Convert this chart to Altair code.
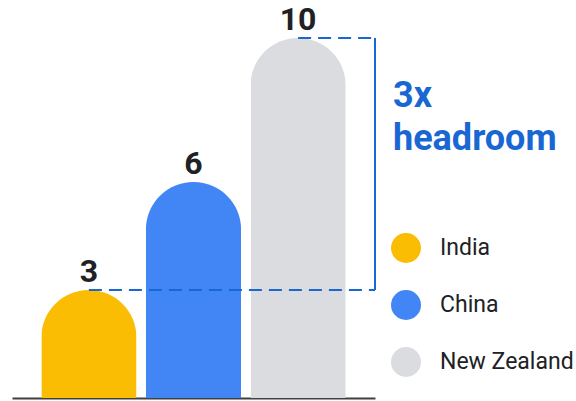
import altair as alt
import pandas as pd

countries = ["India", "China", "New Zealand"]
values = [3, 6, 10]
colors = ["#FBBC04", "#4285F4", "#DADCE0"]
headroom_from = ["India", "New Zealand"]
headroom_values = [3, 10]
headroom_lines = ["3x", "headroom"]

FONT = "Roboto"
BLUE = "#1967D2"
INK = "#202124"

bars_df = pd.DataFrame({"country": countries, "value": values})
guide_df = pd.DataFrame({"country": headroom_from, "value": headroom_values})
span_df = pd.DataFrame({"lo": [min(headroom_values)], "hi": [max(headroom_values)]})
note_df = pd.DataFrame({"text": ["\n".join(headroom_lines)]})

x = alt.X(
    "country:N",
    sort=countries,
    scale=alt.Scale(domain=countries, paddingInner=0.09, paddingOuter=0.28),
    axis=alt.Axis(labels=False, ticks=False, title=None, domainColor="#3C4043",
                  domainWidth=2, grid=False),
)
y_scale = alt.Scale(domain=[0, 10], nice=False, zero=True)
y = alt.Y("value:Q", scale=y_scale, axis=None)

bars = alt.Chart(bars_df).mark_bar(
    cornerRadiusTopLeft=47.5, cornerRadiusTopRight=47.5
).encode(
    x=x,
    y=y,
    color=alt.Color(
        "country:N",
        scale=alt.Scale(domain=countries, range=colors),
        legend=alt.Legend(
            title=None, orient="none", legendX=379, legendY=195, padding=0,
            symbolType="circle", symbolSize=900, symbolStrokeWidth=0,
            symbolOpacity=1, labelFont=FONT, labelFontSize=23, labelColor=INK,
            labelOffset=19, rowPadding=27, labelLimit=300,
        ),
    ),
)

guides = alt.Chart(guide_df).mark_rule(
    color=BLUE, strokeWidth=2, strokeDash=[13, 7]
).encode(x=x, x2=alt.value("width"), y=y)

span = alt.Chart(span_df).mark_rule(color=BLUE, strokeWidth=2).encode(
    x=alt.value("width"),
    y=alt.Y("lo:Q", scale=y_scale, axis=None),
    y2="hi:Q",
)

labels = alt.Chart(bars_df).mark_text(
    font=FONT, fontSize=32, fontWeight="bold", color=INK,
    baseline="alphabetic", dy=-8,
).encode(x=x, y=y, text="value:Q")

note = alt.Chart(note_df).mark_text(
    font=FONT, fontSize=36, fontWeight="bold", color=BLUE, align="left",
    baseline="alphabetic", dx=18, lineBreak="\n", lineHeight=43,
).encode(x=alt.value("width"), y=alt.value(69), text="text:N")

chart = alt.layer(bars, guides, span, labels, note).properties(
    width=363,
    height=360,
    autosize=alt.AutoSizeParams(type="none"),
    padding={"left": 12, "top": 38, "right": 201, "bottom": 3},
    background="white",
).configure_view(stroke=None)

chart.save("out.html", embed_options={"renderer": "svg", "actions": False})
